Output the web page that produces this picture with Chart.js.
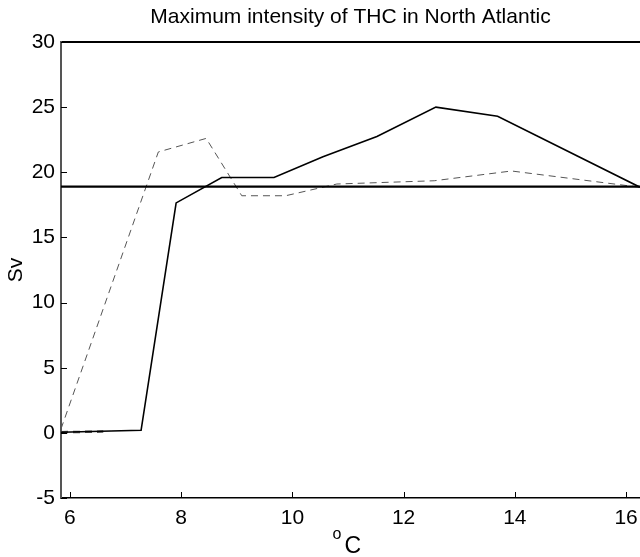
<!DOCTYPE html>
<html>
<head>
<meta charset="utf-8">
<script src="https://cdn.jsdelivr.net/npm/chart.js@4/dist/chart.umd.min.js"></script>
<style>
html,body{margin:0;padding:0;background:#fff;}
#wrap{width:640px;height:557px;}
</style>
</head>
<body>
<div id="wrap"><canvas id="c" width="640" height="557"></canvas></div>
<script>
// ---- data ----
const solidX = [5.84, 7.28, 7.91, 8.73, 9.67, 10.55, 11.52, 12.58, 13.69, 16.25];
const solidY = [0.05, 0.2, 17.65, 19.6, 19.6, 21.2, 22.75, 25.0, 24.3, 18.85];
const dashX  = [5.84, 7.59, 8.45, 9.09, 9.88, 10.8, 12.55, 13.94, 16.25];
const dashY  = [0.3, 21.56, 22.6, 18.2, 18.2, 19.1, 19.35, 20.1, 18.85];
const dash0X = [5.84, 6.6];
const dash0Y = [0.05, 0.1];
const refLevel = [18.9];
const xRange = [5.84, 16.25];
const yRange = [-5, 30];
const xTicks = [6, 8, 10, 12, 14, 16];
const yTicks = [-5, 0, 5, 10, 15, 20, 25, 30];
const titleText = 'Maximum intensity of THC in North Atlantic';
const yTitle = 'Sv';

const FONT = '"Liberation Sans", Arial, Helvetica, sans-serif';
const pts = (xs, ys) => xs.map((x, i) => ({x: x, y: ys[i]}));

const decor = {
  id: 'decor',
  afterDatasetsDraw(chart) {
    const ctx = chart.ctx, a = chart.chartArea;
    const xs = chart.scales.x, ys = chart.scales.y;
    ctx.save();
    ctx.strokeStyle = '#000';
    ctx.lineWidth = 1;
    xTicks.forEach(v => {
      const px = Math.round(xs.getPixelForValue(v)) + 0.5;
      ctx.beginPath(); ctx.moveTo(px, a.bottom); ctx.lineTo(px, a.bottom - 6); ctx.stroke();
    });
    yTicks.forEach(v => {
      const py = Math.round(ys.getPixelForValue(v)) + 0.5;
      ctx.beginPath(); ctx.moveTo(a.left, py); ctx.lineTo(a.left + 6, py); ctx.stroke();
    });
    ctx.restore();
  },
  afterDraw(chart) {
    const ctx = chart.ctx, a = chart.chartArea;
    ctx.save();
    ctx.fillStyle = '#000';
    ctx.textAlign = 'center';
    ctx.textBaseline = 'middle';
    ctx.font = '21px ' + FONT;
    ctx.fillText(titleText, (a.left + a.right) / 2, 17);
    // y title
    ctx.save();
    ctx.translate(16, (a.top + a.bottom) / 2);
    ctx.rotate(-Math.PI / 2);
    ctx.font = '21px ' + FONT;
    ctx.fillText(yTitle, 0, 0);
    ctx.restore();
    // x title: superscript o + C
    const cx = (a.left + a.right) / 2;
    ctx.textAlign = 'left';
    ctx.textBaseline = 'alphabetic';
    ctx.font = '16px ' + FONT;
    ctx.fillText('o', cx - 18, 539);
    ctx.font = '23px ' + FONT;
    ctx.fillText('C', cx - 6, 553);
    ctx.restore();
  }
};

new Chart(document.getElementById('c'), {
  type: 'line',
  data: {
    datasets: [
      {
        data: pts(solidX, solidY),
        borderColor: '#000', borderWidth: 1.6, pointRadius: 0, tension: 0, order: 1
      },
      {
        data: pts([xRange[0], xRange[1]], [refLevel[0], refLevel[0]]),
        borderColor: '#000', borderWidth: 2.2, pointRadius: 0, tension: 0, order: 2
      },
      {
        data: pts(dashX, dashY),
        borderColor: '#555', borderWidth: 1, borderDash: [7, 5], pointRadius: 0, tension: 0, order: 3
      },
      {
        data: pts(dash0X, dash0Y),
        borderColor: '#555', borderWidth: 2.5, borderDash: [7, 5], pointRadius: 0, tension: 0, order: 4
      }
    ]
  },
  options: {
    responsive: false,
    animation: false,
    layout: {padding: {top: 42, right: 0, bottom: 0, left: 0}},
    plugins: {legend: {display: false}, title: {display: false}, tooltip: {enabled: false}},
    scales: {
      x: {
        type: 'linear', position: 'bottom',
        min: xRange[0], max: xRange[1],
        afterBuildTicks: s => { s.ticks = xTicks.map(v => ({value: v})); },
        afterFit: s => { s.height = 59; s.paddingLeft = 0; s.paddingRight = 0; },
        grid: {display: false, drawTicks: false},
        border: {display: true, color: '#000', width: 1.5},
        ticks: {color: '#000', font: {family: FONT, size: 21}, padding: 8, maxRotation: 0}
      },
      x2: {
        type: 'linear', position: 'top',
        min: xRange[0], max: xRange[1],
        afterFit: s => { s.height = 0; s.paddingLeft = 0; s.paddingRight = 0; },
        grid: {display: false, drawTicks: false},
        border: {display: true, color: '#000', width: 2},
        ticks: {display: false}
      },
      y: {
        type: 'linear', position: 'left',
        min: yRange[0], max: yRange[1],
        afterBuildTicks: s => { s.ticks = yTicks.map(v => ({value: v})); },
        afterFit: s => { s.width = 61; s.paddingTop = 0; s.paddingBottom = 0; },
        grid: {display: false, drawTicks: false},
        border: {display: true, color: '#555', width: 2},
        ticks: {color: '#000', font: {family: FONT, size: 21}, padding: 6}
      }
    }
  },
  plugins: [decor]
});
</script>
</body>
</html>
